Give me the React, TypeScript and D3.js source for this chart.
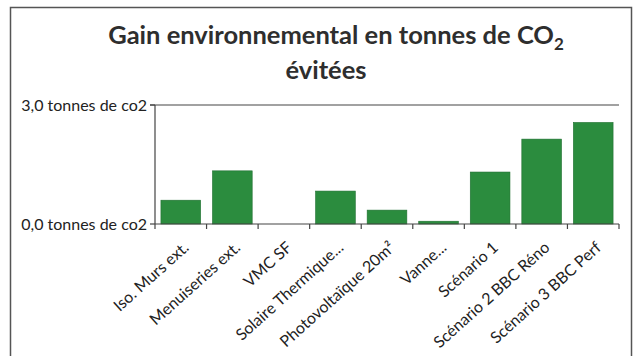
import React from 'react';
import * as d3 from 'd3';

const categories = [
  'Iso. Murs ext.',
  'Menuiseries ext.',
  'VMC SF',
  'Solaire Thermique...',
  'Photovoltaïque 20m²',
  'Vanne...',
  'Scénario 1',
  'Scénario 2 BBC Réno',
  'Scénario 3 BBC Perf',
];
const values = [0.6, 1.34, 0, 0.83, 0.35, 0.07, 1.31, 2.14, 2.56];
const yTicks = [0, 3];
const yTickLabels = ['0,0 tonnes de co2', '3,0 tonnes de co2'];
const titleLine1 = 'Gain environnemental en tonnes de CO';
const titleSub = '2';
const titleLine2 = 'évitées';

const W = 640;
const H = 356;
const left = 155;
const right = 619;
const top = 105;
const bottom = 224;
const font = 'Lato, "Open Sans", sans-serif';

export default function App() {
  const x = d3
    .scaleBand<string>()
    .domain(categories)
    .range([left, right])
    .paddingInner(0.23)
    .paddingOuter(0.115);
  const y = d3.scaleLinear().domain([0, 3]).range([bottom, top]);
  const step = x.step();
  const boundaries = d3.range(categories.length + 1).map((i) => left + i * step);

  return (
    <svg
      width={W}
      height={H}
      style={{ position: 'fixed', left: 0, top: 0, background: '#fff' }}
    >
      <rect x={0} y={0} width={W} height={H} fill="#fff" />
      <rect x={10.5} y={7.5} width={621} height={400} fill="none" stroke="#555" strokeWidth={1.5} />

      <text x={336} y={44} textAnchor="middle" fontFamily={font} fontWeight={700} fontSize={25.5} fill="#2e2e2e">
        {titleLine1}
        <tspan dy={6} fontSize={17}>{titleSub}</tspan>
      </text>
      <text x={326} y={79} textAnchor="middle" fontFamily={font} fontWeight={700} fontSize={25.5} fill="#2e2e2e">
        {titleLine2}
      </text>

      {/* top gridline */}
      <line x1={left - 5} x2={right} y1={y(3)} y2={y(3)} stroke="#444" strokeWidth={1.2} />
      {/* y axis */}
      <line x1={left} x2={left} y1={y(3)} y2={y(0)} stroke="#444" strokeWidth={1.2} />
      {yTicks.map((t, i) => (
        <g key={t}>
          <line x1={left - 5} x2={left} y1={y(t)} y2={y(t)} stroke="#444" strokeWidth={1.2} />
          <text x={left - 8} y={y(t)} dy="0.35em" textAnchor="end" fontFamily={font} fontSize={16} fill="#222">
            {yTickLabels[i]}
          </text>
        </g>
      ))}

      {categories.map((c, i) => (
        <rect
          key={c}
          x={x(c)}
          y={y(values[i])}
          width={x.bandwidth()}
          height={y(0) - y(values[i])}
          fill="#2b8c3e"
          stroke="#1f6f30"
          strokeWidth={0.6}
        />
      ))}

      {/* x axis */}
      <line x1={left} x2={right} y1={y(0)} y2={y(0)} stroke="#444" strokeWidth={1.2} />
      {boundaries.map((b, i) => (
        <line key={i} x1={b} x2={b} y1={y(0)} y2={y(0) + 5} stroke="#444" strokeWidth={1.2} />
      ))}
      {categories.map((c) => {
        const cx = (x(c) as number) + x.bandwidth() / 2 + 9;
        const cy = y(0) + 25;
        return (
          <text
            key={c}
            x={cx}
            y={cy}
            textAnchor="end"
            transform={`rotate(-42 ${cx} ${cy})`}
            fontFamily={font}
            fontSize={16}
            fill="#222"
          >
            {c}
          </text>
        );
      })}
    </svg>
  );
}
